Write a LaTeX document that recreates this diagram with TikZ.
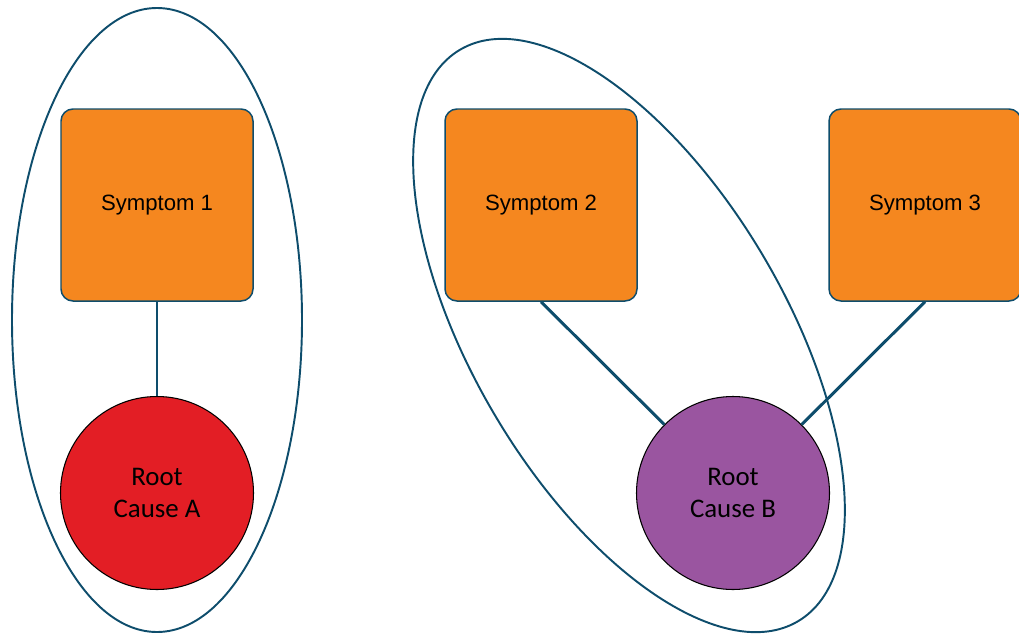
\documentclass[tikz,border=0pt]{standalone}
\usepackage{fontspec}
\setmainfont{Liberation Sans}
\newfontfamily\causefont{Carlito}
\usetikzlibrary{positioning}
\definecolor{symorange}{HTML}{F5871F}
\definecolor{causered}{HTML}{E31E25}
\definecolor{causepurple}{HTML}{9A55A0}
\definecolor{linkblue}{HTML}{0E4D6C}

\begin{document}
\begin{tikzpicture}[node distance={7.68cm}, on grid,
        symptom/.style = {draw=linkblue, line width=0.85pt, fill=symorange, rounded corners=0.24cm, minimum size=3.84cm, inner sep=0pt, font=\fontsize{12.6}{15}\selectfont},
        cause/.style = {draw=black, line width=0.6pt, circle, minimum size=3.86cm, inner sep=0pt, align=center, font=\causefont\fontsize{15.3}{18.2}\selectfont},
        group/.style = {draw=linkblue, line width=1.1pt},
        link/.style = {draw=linkblue, line width=1.7pt}]
        \useasboundingbox (0,0) rectangle (20.38,12.66);
        \draw[group] (3.14,6.26) ellipse [x radius=2.9cm, y radius=6.24cm];
        \draw[group, rotate around={-59.4:(12.58,5.95)}] (12.58,5.95) ellipse [x radius=6.64cm, y radius=3.12cm];
        \node[symptom] (s1) at (3.14,8.56) {Symptom 1};
        \node[symptom] (s2) [right=of s1] {Symptom 2};
        \node[symptom] (s3) [right=of s2] {Symptom 3};
        \node[cause, fill=causered] (a) [below=5.76cm of s1] {Root\\Cause A};
        \node[cause, fill=causepurple] (b) [below=5.76cm of s2, xshift=3.84cm] {Root\\Cause B};
        \draw[link] (s1) to (a);
        \draw[link] (s2.south) to (b);
        \draw[link] (s3.south) to (b);
\end{tikzpicture}
\end{document}
